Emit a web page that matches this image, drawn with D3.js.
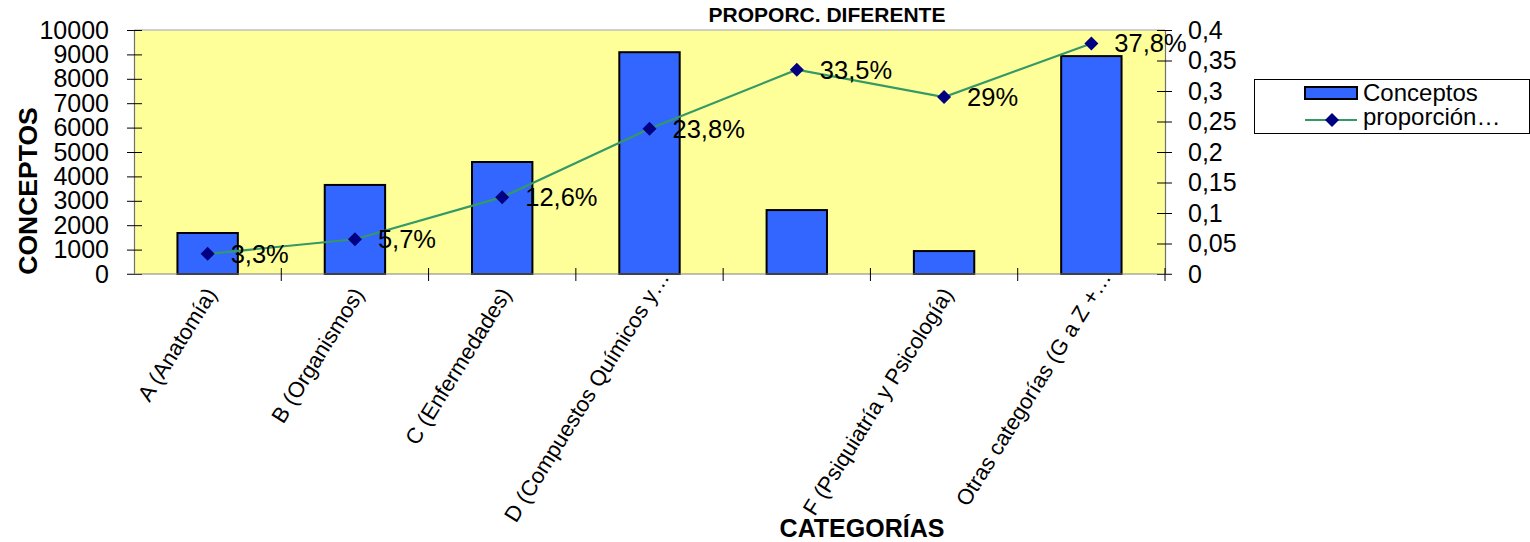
<!DOCTYPE html>
<html>
<head>
<meta charset="utf-8">
<script src="https://cdn.jsdelivr.net/npm/d3@7"></script>
<style>
  html, body { margin: 0; padding: 0; background: #fff; overflow: hidden; }
  svg { display: block; font-family: "Liberation Sans", Arial, sans-serif; }
</style>
</head>
<body>
<svg id="chart" width="1530" height="542"></svg>
<script>
// ---- data ----
const categories = ["A", "B", "C", "D", "E", "F", "G-Z"];
const categoryLabels = [
  "A (Anatomía)",
  "B (Organismos)",
  "C (Enfermedades)",
  "D (Compuestos Químicos y…",
  "",
  "F (Psiquiatría y Psicología)",
  "Otras categorías (G a Z +…"
];
const conceptos = [1680, 3650, 4590, 9090, 2620, 940, 8930];
const proporcion = [0.033, 0.057, 0.126, 0.238, 0.335, 0.29, 0.378];
const leftTicks = [0, 1000, 2000, 3000, 4000, 5000, 6000, 7000, 8000, 9000, 10000];
const rightTicks = [0, 0.05, 0.1, 0.15, 0.2, 0.25, 0.3, 0.35, 0.4];
const seriesNames = ["Conceptos", "proporción…"];

// ---- layout ----
const plot = { left: 134, right: 1165, top: 30, bottom: 274 };
const svg = d3.select("#chart");
const es = d3.formatLocale({ decimal: ",", thousands: ".", grouping: [3], currency: ["", "€"] });

const x = d3.scaleBand().domain(categories).range([plot.left, plot.right]).padding(0);
const bw = x.bandwidth();
const cx = c => x(c) + bw / 2;
const yL = d3.scaleLinear().domain([0, 10000]).range([plot.bottom, plot.top]);
const yR = d3.scaleLinear().domain([0, 0.4]).range([plot.bottom, plot.top]);

// plot background
svg.append("rect")
  .attr("x", plot.left).attr("y", plot.top)
  .attr("width", plot.right - plot.left).attr("height", plot.bottom - plot.top)
  .attr("fill", "#FFFF99");
svg.append("line")
  .attr("x1", plot.left).attr("x2", plot.right)
  .attr("y1", plot.top).attr("y2", plot.top)
  .attr("stroke", "#c0c0c0").attr("stroke-width", 1.5);

// bars
const barW = bw * 0.41;
svg.append("g").selectAll("rect")
  .data(conceptos)
  .join("rect")
  .attr("x", (d, i) => x(categories[i]) + (bw - barW) / 2)
  .attr("y", d => yL(d))
  .attr("width", barW)
  .attr("height", d => yL(0) - yL(d))
  .attr("fill", "#3366FF")
  .attr("stroke", "#000")
  .attr("stroke-width", 2);

// left axis
const gL = svg.append("g")
  .attr("transform", `translate(${plot.left},0)`)
  .call(d3.axisLeft(yL).tickValues(leftTicks).tickFormat(d3.format("d"))
    .tickSize(7).tickSizeOuter(0).tickPadding(18));
gL.selectAll(".tick line").attr("x1", 8).attr("stroke", "#000");
gL.selectAll(".tick text").attr("font-size", 25).attr("fill", "#000")
  .attr("font-family", "Liberation Sans, Arial, sans-serif");
gL.select(".domain").attr("stroke", "#707070").attr("stroke-width", 1.2);

// right axis
const gR = svg.append("g")
  .attr("transform", `translate(${plot.right},0)`)
  .call(d3.axisRight(yR).tickValues(rightTicks).tickFormat(es.format(".2~f"))
    .tickSize(7).tickSizeOuter(0).tickPadding(16));
gR.selectAll(".tick line").attr("x1", -8).attr("stroke", "#000");
gR.selectAll(".tick text").attr("font-size", 25).attr("fill", "#000")
  .attr("font-family", "Liberation Sans, Arial, sans-serif");
gR.select(".domain").attr("stroke", "#707070").attr("stroke-width", 1.2);

// category axis
svg.append("line")
  .attr("x1", plot.left - 7).attr("x2", plot.right + 7)
  .attr("y1", plot.bottom).attr("y2", plot.bottom)
  .attr("stroke", "#808080").attr("stroke-width", 1.2);
svg.append("g").selectAll("line")
  .data(categories)
  .join("line")
  .attr("x1", c => x(c) + bw).attr("x2", c => x(c) + bw)
  .attr("y1", plot.bottom - 6).attr("y2", plot.bottom + 7)
  .attr("stroke", "#000");

// rotated category labels; trimmed ones (ending in "…") run closer to the axis
const angle = -58;
const rad = angle * Math.PI / 180;
svg.append("g").selectAll("text")
  .data(categories)
  .join("text")
  .attr("transform", (c, i) => {
    const shift = categoryLabels[i].endsWith("…") ? 20 : 0;
    const tx = cx(c) + 10 + shift * Math.cos(rad);
    const ty = plot.bottom + 20 + shift * Math.sin(rad);
    return `translate(${tx},${ty}) rotate(${angle})`;
  })
  .attr("text-anchor", "end")
  .attr("font-size", 22)
  .attr("fill", "#000")
  .text((c, i) => categoryLabels[i]);

// proportion line
const line = d3.line()
  .x((d, i) => cx(categories[i]))
  .y(d => yR(d));
svg.append("path")
  .datum(proporcion)
  .attr("d", line)
  .attr("fill", "none")
  .attr("stroke", "#339966")
  .attr("stroke-width", 2.2);

const diamond = d3.symbol(d3.symbolSquare, 98);
svg.append("g").selectAll("path")
  .data(proporcion)
  .join("path")
  .attr("d", diamond)
  .attr("transform", (d, i) => `translate(${cx(categories[i])},${yR(d)}) rotate(45)`)
  .attr("fill", "#000080");

// value labels
const pct = es.format(".1~%");
svg.append("g").selectAll("text")
  .data(proporcion)
  .join("text")
  .attr("x", (d, i) => cx(categories[i]) + 23)
  .attr("y", d => yR(d) + 9)
  .attr("font-size", 25.5)
  .attr("fill", "#000")
  .text(d => pct(d));

// titles
svg.append("text")
  .attr("x", 827).attr("y", 22)
  .attr("text-anchor", "middle")
  .attr("font-size", 21).attr("font-weight", "bold")
  .text("PROPORC. DIFERENTE");
svg.append("text")
  .attr("transform", `translate(37,${(plot.top + plot.bottom) / 2 + 39}) rotate(-90)`)
  .attr("text-anchor", "middle")
  .attr("font-size", 26.5).attr("font-weight", "bold")
  .text("CONCEPTOS");
svg.append("text")
  .attr("x", 862).attr("y", 537)
  .attr("text-anchor", "middle")
  .attr("font-size", 25).attr("font-weight", "bold")
  .text("CATEGORÍAS");

// legend
const lg = svg.append("g").attr("transform", "translate(1254,79)");
lg.append("rect")
  .attr("x", 0.5).attr("y", 0.5).attr("width", 275).attr("height", 54)
  .attr("fill", "#fff").attr("stroke", "#000").attr("stroke-width", 1);
lg.append("rect")
  .attr("x", 51).attr("y", 8).attr("width", 52).attr("height", 12)
  .attr("fill", "#3366FF").attr("stroke", "#000").attr("stroke-width", 2);
lg.append("text").attr("x", 109).attr("y", 22).attr("font-size", 24).text(seriesNames[0]);
lg.append("line")
  .attr("x1", 51).attr("x2", 103).attr("y1", 41).attr("y2", 41)
  .attr("stroke", "#339966").attr("stroke-width", 2.2);
lg.append("path")
  .attr("d", diamond)
  .attr("transform", "translate(78,41) rotate(45)")
  .attr("fill", "#000080");
lg.append("text").attr("x", 109).attr("y", 46).attr("font-size", 24).text(seriesNames[1]);
</script>
</body>
</html>
